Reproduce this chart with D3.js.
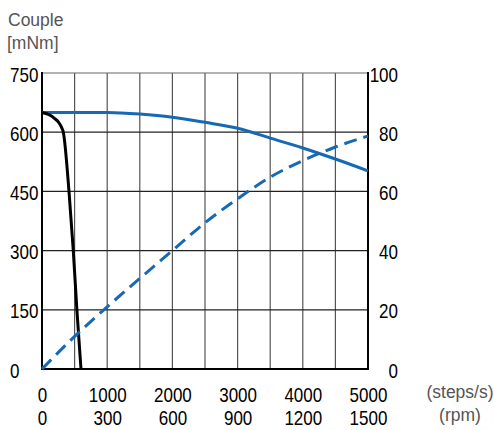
<!DOCTYPE html>
<html>
<head>
<meta charset="utf-8">
<script src="https://cdn.jsdelivr.net/npm/d3@7"></script>
<style>
  body { margin: 0; background: #fff; }
  svg { font-family: "Liberation Sans", Arial, sans-serif; }
  .tick text { font-size: 20px; fill: #000; }
  .unit { font-size: 17.5px; fill: #555; }
</style>
</head>
<body>
<div id="chart"></div>
<script>
// speed in steps/s, torque in mNm (left axis), power in W (right axis)
const torqueSteps = [0, 500, 1000, 1500, 2000, 2500, 3000, 3500, 4000, 4500, 5000];
const torqueValues = [650, 650, 650, 646, 638, 625, 610, 585, 560, 532, 502];

const pullSteps = [0, 100, 200, 260, 300, 327, 414, 480, 535, 598];
const pullValues = [650, 645, 634, 624, 612, 600, 450, 300, 150, 0];

const powerSteps = [0, 500, 1000, 1500, 2000, 2500, 3000, 3500, 4000, 4500, 5000];
const powerValues = [0, 11, 21, 30.6, 40, 49.4, 57.5, 64.8, 70.4, 75, 78.7];

const stepTicks = [0, 1000, 2000, 3000, 4000, 5000];
const rpmTicks = [0, 300, 600, 900, 1200, 1500];
const torqueTicks = [0, 150, 300, 450, 600, 750];
const powerTicks = [0, 20, 40, 60, 80, 100];
const gridSteps = [500, 1000, 1500, 2000, 2500, 3000, 3500, 4000, 4500];

const width = 494, height = 430;
const plotLeft = 42, plotRight = 368, plotTop = 73, plotBottom = 369;
const blue = "#1769b4";
const fmt = d3.format("d");
const squeeze = 0.85; // labels in the reference use a condensed face

const x = d3.scaleLinear().domain([0, 5000]).range([plotLeft, plotRight]);
const xRpm = d3.scaleLinear().domain([0, 1500]).range([plotLeft, plotRight]);
const y = d3.scaleLinear().domain([0, 750]).range([plotBottom, plotTop]);
const yR = d3.scaleLinear().domain([0, 100]).range([plotBottom, plotTop]);

const svg = d3.select("#chart").append("svg")
  .attr("width", width)
  .attr("height", height);

// grid
svg.append("g")
  .selectAll("line")
  .data(gridSteps)
  .enter().append("line")
  .attr("x1", d => x(d)).attr("x2", d => x(d))
  .attr("y1", plotTop).attr("y2", plotBottom)
  .attr("stroke", "#555").attr("stroke-width", 1.2);

svg.append("g")
  .selectAll("line")
  .data(torqueTicks.slice(1))
  .enter().append("line")
  .attr("x1", plotLeft).attr("x2", plotRight)
  .attr("y1", d => y(d)).attr("y2", d => y(d))
  .attr("stroke", d => d === 750 ? "#666" : "#222").attr("stroke-width", 1.2);

// frame
svg.append("line").attr("x1", plotLeft).attr("x2", plotLeft).attr("y1", plotTop - 1).attr("y2", plotBottom + 1)
  .attr("stroke", "#000").attr("stroke-width", 2);
svg.append("line").attr("x1", plotRight).attr("x2", plotRight).attr("y1", plotTop - 1).attr("y2", plotBottom + 1)
  .attr("stroke", "#000").attr("stroke-width", 2);
svg.append("line").attr("x1", plotLeft).attr("x2", plotRight).attr("y1", plotBottom).attr("y2", plotBottom)
  .attr("stroke", "#000").attr("stroke-width", 2);

// axes (labels only)
const leftAxis = svg.append("g")
  .attr("transform", "translate(" + plotLeft + ",0)")
  .call(d3.axisLeft(y).tickValues(torqueTicks).tickFormat(fmt).tickSize(0).tickPadding(0));
leftAxis.selectAll("text")
  .attr("text-anchor", "start")
  .attr("x", (10 - plotLeft) / squeeze)
  .attr("dy", "0.4em")
  .attr("transform", "scale(" + squeeze + ",1)");

const rightAxis = svg.append("g")
  .attr("transform", "translate(" + plotRight + ",0)")
  .call(d3.axisRight(yR).tickValues(powerTicks).tickFormat(fmt).tickSize(0).tickPadding(0));
rightAxis.selectAll("text")
  .attr("text-anchor", "end")
  .attr("x", (398 - plotRight) / squeeze)
  .attr("dy", "0.4em")
  .attr("transform", "scale(" + squeeze + ",1)");

svg.append("g")
  .attr("transform", "translate(0," + plotBottom + ")")
  .call(d3.axisBottom(x).tickValues(stepTicks).tickFormat(fmt).tickSize(0).tickPadding(19))
  .selectAll("text").attr("transform", "scale(" + squeeze + ",1)");

svg.append("g")
  .attr("transform", "translate(0," + plotBottom + ")")
  .call(d3.axisBottom(xRpm).tickValues(rpmTicks).tickFormat(fmt).tickSize(0).tickPadding(42))
  .selectAll("text").attr("transform", "scale(" + squeeze + ",1)");

svg.selectAll(".domain").remove();

// curves
const torqueLine = d3.line()
  .x((d, i) => x(torqueSteps[i]))
  .y(d => y(d))
  .curve(d3.curveMonotoneX);

svg.append("path")
  .datum(torqueValues)
  .attr("d", torqueLine)
  .attr("fill", "none").attr("stroke", blue).attr("stroke-width", 3);

const pullLine = d3.line()
  .x((d, i) => x(pullSteps[i]))
  .y(d => y(d))
  .curve(d3.curveMonotoneX);

svg.append("path")
  .datum(pullValues)
  .attr("d", pullLine)
  .attr("fill", "none").attr("stroke", "#000").attr("stroke-width", 3);

const powerLine = d3.line()
  .x((d, i) => x(powerSteps[i]))
  .y(d => yR(d))
  .curve(d3.curveMonotoneX);

svg.append("path")
  .datum(powerValues)
  .attr("d", powerLine)
  .attr("fill", "none").attr("stroke", blue).attr("stroke-width", 3)
  .attr("stroke-dasharray", "13,7");

// titles and units
svg.append("text").attr("class", "unit").attr("x", 8).attr("y", 26).text("Couple");
svg.append("text").attr("class", "unit").attr("x", 7).attr("y", 49).text("[mNm]");
svg.append("text").attr("class", "unit").attr("x", 460).attr("y", 398)
  .attr("text-anchor", "middle").text("(steps/s)");
svg.append("text").attr("class", "unit").attr("x", 460).attr("y", 421)
  .attr("text-anchor", "middle").text("(rpm)");
</script>
</body>
</html>
